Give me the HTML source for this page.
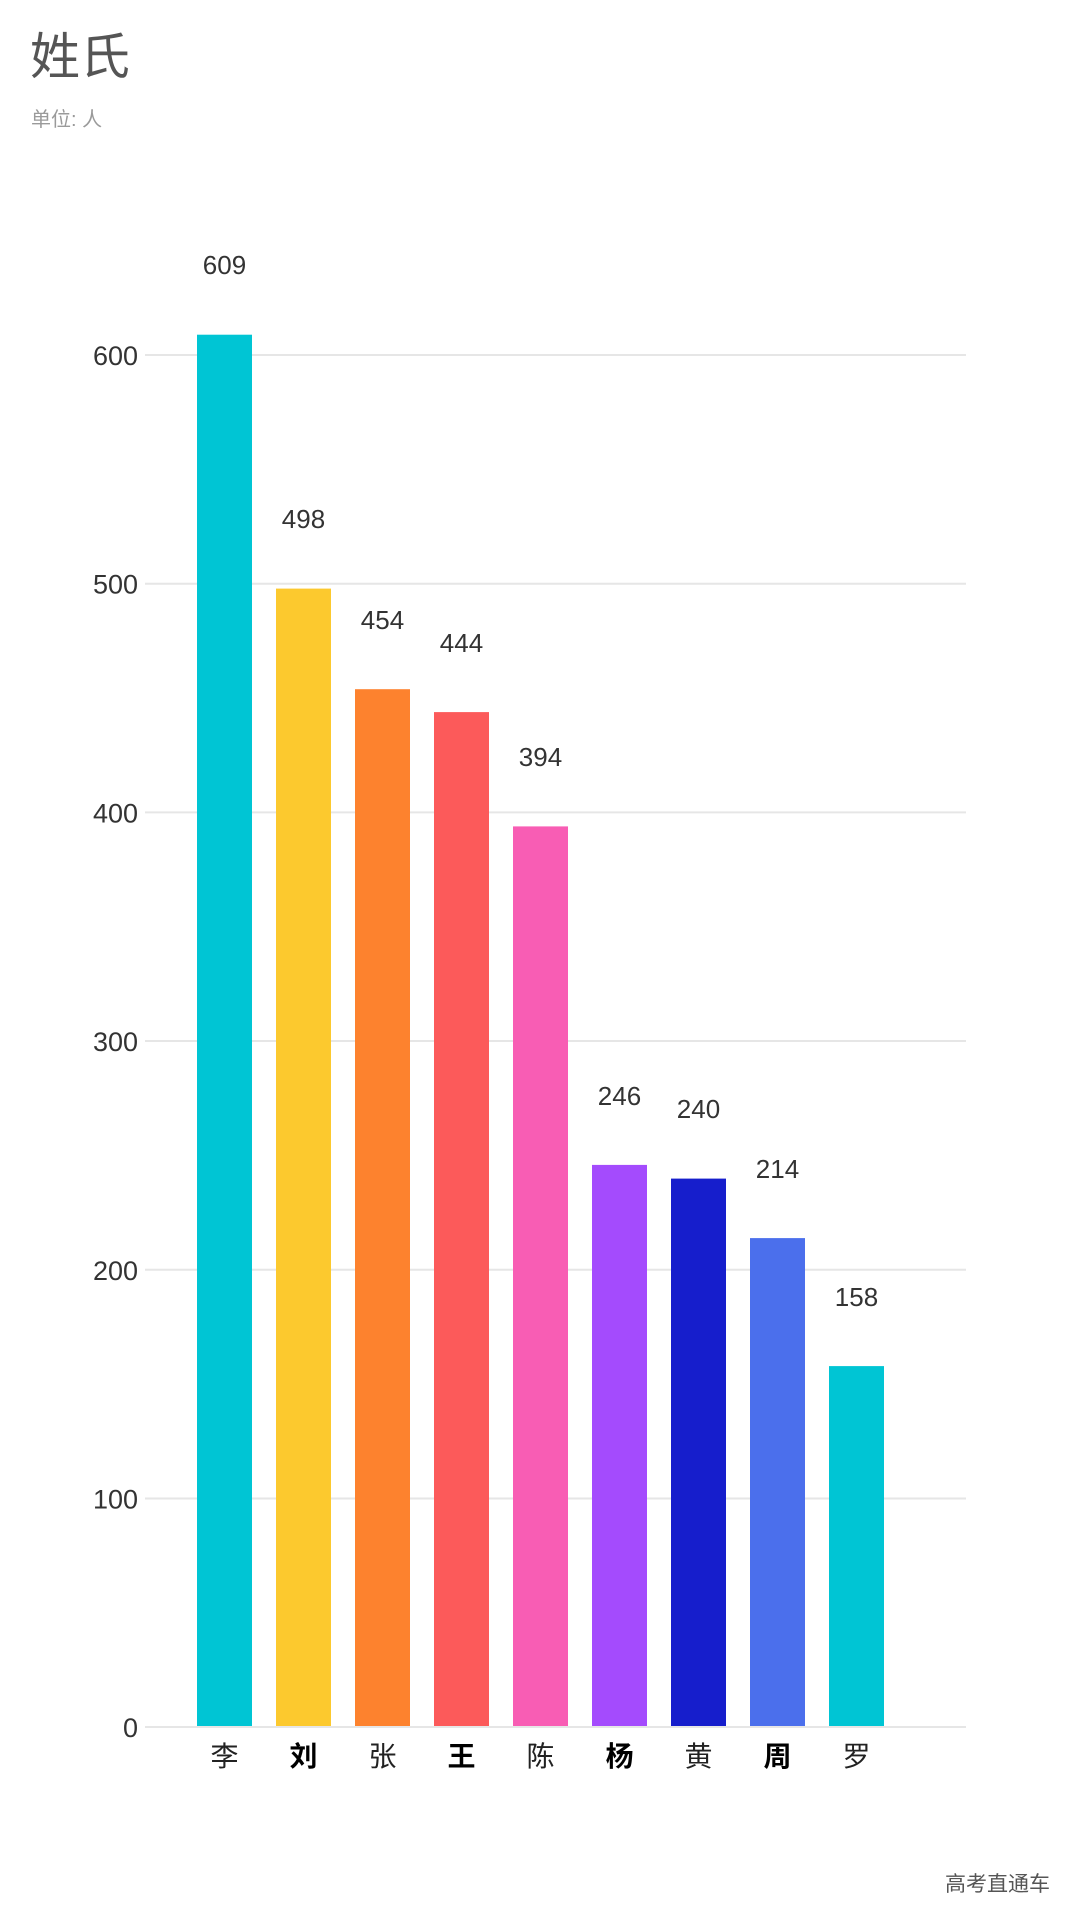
<!DOCTYPE html>
<html><head><meta charset="utf-8"><style>
html,body{margin:0;padding:0;background:#fff;}
body{width:1080px;height:1920px;overflow:hidden;}
</style></head><body>
<svg width="1080" height="1920" xmlns="http://www.w3.org/2000/svg" font-family="'Liberation Sans','Noto Sans CJK SC',sans-serif">
<text x="30" y="74" font-size="50" fill="#555">姓氏</text>
<text x="31" y="126" font-size="20" fill="#9a9a9a">单位: 人</text>
<g stroke="#e6e6e6" stroke-width="2">
<line x1="145" x2="966" y1="355" y2="355"/>
<line x1="145" x2="966" y1="583.7" y2="583.7"/>
<line x1="145" x2="966" y1="812.4" y2="812.4"/>
<line x1="145" x2="966" y1="1041" y2="1041"/>
<line x1="145" x2="966" y1="1269.8" y2="1269.8"/>
<line x1="145" x2="966" y1="1498.5" y2="1498.5"/>
<line x1="145" x2="966" y1="1727" y2="1727"/>
</g>
<g font-size="27" fill="#333" text-anchor="end">
<text x="138" y="365">600</text>
<text x="138" y="593.7">500</text>
<text x="138" y="822.4">400</text>
<text x="138" y="1051">300</text>
<text x="138" y="1279.8">200</text>
<text x="138" y="1508.5">100</text>
<text x="138" y="1737">0</text>
</g>
<g>
<rect x="197" y="334.7" width="55" height="1391.3" fill="#00c5d4"/>
<rect x="276" y="588.6" width="55" height="1137.4" fill="#fcc92e"/>
<rect x="355" y="689.2" width="55" height="1036.8" fill="#fd822e"/>
<rect x="434" y="712.1" width="55" height="1013.9" fill="#fc5a5a"/>
<rect x="513" y="826.4" width="55" height="899.6" fill="#f85db4"/>
<rect x="592" y="1164.9" width="55" height="561.1" fill="#a44bfd"/>
<rect x="671" y="1178.6" width="55" height="547.4" fill="#161ecc"/>
<rect x="750" y="1238.1" width="55" height="487.9" fill="#4b6fec"/>
<rect x="829" y="1366.1" width="55" height="359.9" fill="#00c5d4"/>
</g>
<g font-size="26" fill="#333" text-anchor="middle">
<text x="224.5" y="274">609</text>
<text x="303.5" y="528">498</text>
<text x="382.5" y="629">454</text>
<text x="461.5" y="652">444</text>
<text x="540.5" y="766">394</text>
<text x="619.5" y="1105">246</text>
<text x="698.5" y="1118">240</text>
<text x="777.5" y="1178">214</text>
<text x="856.5" y="1306">158</text>
</g>
<g font-size="28" fill="#222" text-anchor="middle">
<text x="224.5" y="1766">李</text>
<text x="303.5" y="1766" font-weight="bold" fill="#000">刘</text>
<text x="382.5" y="1766">张</text>
<text x="461.5" y="1766" font-weight="bold" fill="#000">王</text>
<text x="540.5" y="1766">陈</text>
<text x="619.5" y="1766" font-weight="bold" fill="#000">杨</text>
<text x="698.5" y="1766">黄</text>
<text x="777.5" y="1766" font-weight="bold" fill="#000">周</text>
<text x="856.5" y="1766">罗</text>
</g>
<text x="945" y="1891" font-size="21" fill="#555">高考直通车</text>
</svg>
</body></html>
